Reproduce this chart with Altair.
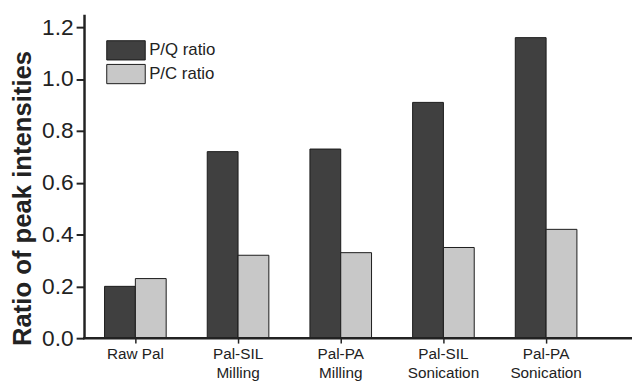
import altair as alt
import pandas as pd

categories = ["Raw Pal", "Pal-SIL|Milling", "Pal-PA|Milling", "Pal-SIL|Sonication", "Pal-PA|Sonication"]
pq_ratio = [0.20, 0.72, 0.73, 0.91, 1.16]
pc_ratio = [0.23, 0.32, 0.33, 0.35, 0.42]
series = ["P/Q ratio", "P/C ratio"]
colors = ["#404040", "#c8c8c8"]

rows = []
for c, a, b in zip(categories, pq_ratio, pc_ratio):
    rows.append({"cat": c, "series": series[0], "value": a})
    rows.append({"cat": c, "series": series[1], "value": b})
df = pd.DataFrame(rows)

FONT = "Liberation Sans"

bars = alt.Chart(df).mark_bar(stroke="#1a1a1a", strokeWidth=1).encode(
    x=alt.X("cat:N", sort=categories, title=None,
            scale=alt.Scale(paddingInner=0.4, paddingOuter=0.2),
            axis=alt.Axis(labelExpr="split(datum.label, '|')", labelAngle=0,
                          labelFontSize=15.5, labelFont=FONT, labelColor="#222",
                          tickColor="#222", tickSize=5, tickWidth=1.5,
                          domain=False, labelPadding=4, labelLineHeight=19)),
    xOffset=alt.XOffset("series:N", sort=series),
    y=alt.Y("value:Q", title="Ratio of peak intensities",
            scale=alt.Scale(domain=[0, 1.25], nice=False),
            axis=alt.Axis(values=[0, 0.2, 0.4, 0.6, 0.8, 1.0, 1.2], format=".1f",
                          grid=False, labelFontSize=23, labelFont=FONT, labelColor="#222",
                          tickColor="#222", tickSize=8, tickWidth=2,
                          domainColor="#222", domainWidth=2.5, labelPadding=3,
                          titleFont=FONT, titleFontSize=26, titleFontWeight="bold",
                          titleColor="#222", titleX=-62, titleY=186, titleAlign="center",
                          titleBaseline="middle")),
    color=alt.Color("series:N", sort=series,
                    scale=alt.Scale(domain=series, range=colors),
                    legend=alt.Legend(title=None, orient="none", legendX=32, legendY=26,
                                      symbolType="M-2,-1H2V1H-2Z", symbolSize=380,
                                      symbolStrokeColor="#1a1a1a", symbolStrokeWidth=1,
                                      labelFont=FONT, labelFontSize=17, labelColor="#222",
                                      labelOffset=13, rowPadding=-1)),
)

axis_line = alt.Chart(pd.DataFrame({"v": [0]})).mark_rule(color="#222", strokeWidth=2.5).encode(
    x=alt.value(-1), x2=alt.value(560), y=alt.value(328)
)

chart = alt.layer(bars, axis_line).properties(
    width=520, height=328,
    autosize=alt.AutoSizeParams(type="none"),
    padding={"left": 77, "top": 4, "right": 35, "bottom": 42},
).configure_view(stroke=None)

chart.save("out.html", embed_options={"renderer": "svg", "actions": False})
